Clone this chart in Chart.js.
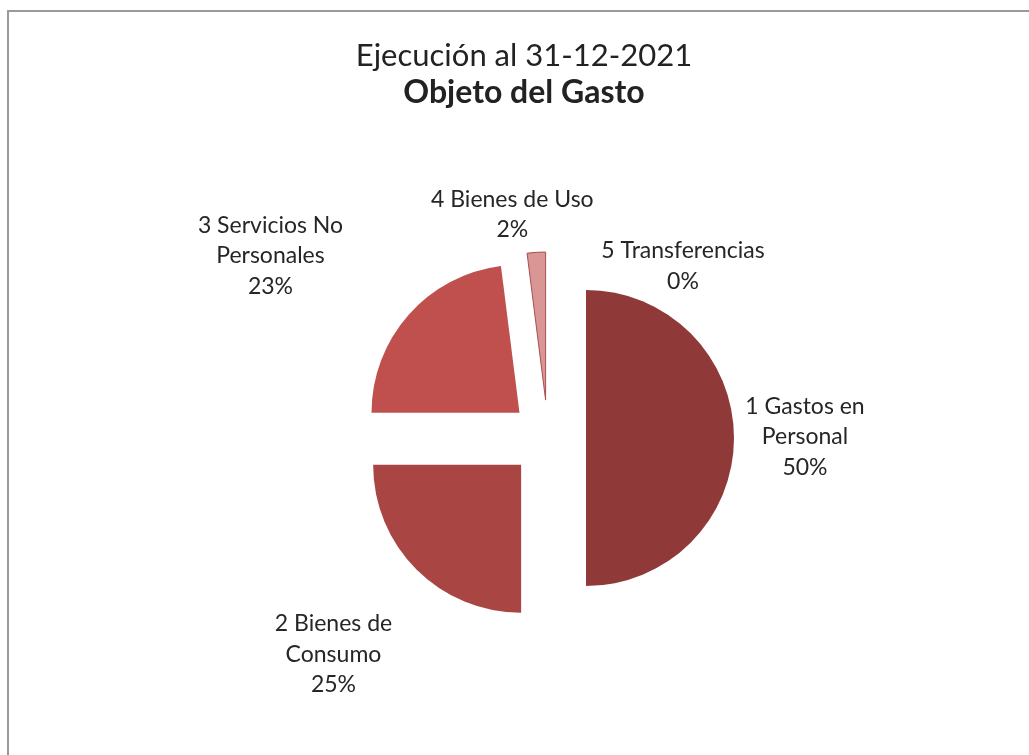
<!DOCTYPE html>
<html lang="es">
<head>
<meta charset="UTF-8">
<title>Objeto del Gasto</title>
<script src="https://cdn.jsdelivr.net/npm/chart.js"></script>
<style>
    html, body { margin: 0; padding: 0; background: #fff; }
    canvas { display: block; }
</style>
</head>
<body>
<canvas id="gastoChart" width="1029" height="755"></canvas>
<script>
// datos del grafico
const titulo = 'Ejecución al 31-12-2021';
const subtitulo = 'Objeto del Gasto';
const categorias = [
    ['1 Gastos en', 'Personal'],
    ['2 Bienes de', 'Consumo'],
    ['3 Servicios No', 'Personales'],
    ['4 Bienes de Uso'],
    ['5 Transferencias']
];
const porcentajes = [50, 25, 23, 2, 0];
const colores = ['#8f3a38', '#a94543', '#c0504d', '#d99694', '#e6b9b8'];

// marco gris (solo izquierda y arriba, como en la captura)
const marco = {
    id: 'marco',
    beforeDraw(chart) {
        const ctx = chart.ctx;
        ctx.save();
        ctx.fillStyle = '#fff';
        ctx.fillRect(0, 0, chart.width, chart.height);
        ctx.strokeStyle = '#9a9a9a';
        ctx.lineWidth = 2;
        ctx.beginPath();
        ctx.moveTo(8, chart.height);
        ctx.lineTo(8, 11);
        ctx.lineTo(chart.width, 11);
        ctx.stroke();
        ctx.restore();
    }
};

// porciones separadas del centro
const explotar = {
    id: 'explotar',
    afterDatasetsUpdate(chart, args, opts) {
        chart.getDatasetMeta(0).data.forEach(arc => {
            const mid = (arc.startAngle + arc.endAngle) / 2;
            arc.x += Math.cos(mid) * opts.distancia;
            arc.y += Math.sin(mid) * opts.distancia;
        });
    }
};

// titulos y etiquetas de cada porcion
const textos = {
    id: 'textos',
    afterDatasetsDraw(chart, args, opts) {
        const ctx = chart.ctx;
        ctx.save();
        ctx.textAlign = 'center';
        ctx.textBaseline = 'alphabetic';
        ctx.fillStyle = '#222';
        ctx.font = '31px Lato';
        ctx.fillText(titulo, opts.tituloX, 66);
        ctx.font = 'bold 32px Lato';
        ctx.fillText(subtitulo, opts.tituloX, 103);

        ctx.font = '23px Lato';
        ctx.fillStyle = '#262626';
        ctx.textBaseline = 'middle';
        chart.getDatasetMeta(0).data.forEach((arc, i) => {
            const mid = (arc.startAngle + arc.endAngle) / 2;
            const px = arc.x + Math.cos(mid) * arc.outerRadius + opts.desvio[i][0];
            const py = arc.y + Math.sin(mid) * arc.outerRadius + opts.desvio[i][1];
            const lineas = categorias[i].concat(porcentajes[i] + '%');
            const y0 = py - (lineas.length - 1) * opts.interlinea / 2;
            lineas.forEach((t, k) => ctx.fillText(t, px, y0 + k * opts.interlinea));
        });
        ctx.restore();
    }
};

new Chart(document.getElementById('gastoChart'), {
    type: 'pie',
    data: {
        labels: categorias.map(c => c.join(' ')),
        datasets: [{
            data: porcentajes,
            backgroundColor: colores,
            borderColor: ['#8f3a38', '#a94543', '#c0504d', '#a5504e', '#c0504d'],
            borderWidth: [0, 0, 0, 1, 0]
        }]
    },
    options: {
        responsive: false,
        animation: false,
        events: [],
        radius: 148,
        layout: { padding: { left: 67, right: 0, top: 121, bottom: 0 } },
        plugins: {
            legend: { display: false },
            title: { display: false },
            tooltip: { enabled: false },
            explotar: { distancia: 38 },
            textos: {
                tituloX: 524,
                interlinea: 30.5,
                desvio: [[71, -1], [-83, 85], [-138, -59], [-24, -38], [135, 14]]
            }
        }
    },
    plugins: [marco, explotar, textos]
});
</script>
</body>
</html>
